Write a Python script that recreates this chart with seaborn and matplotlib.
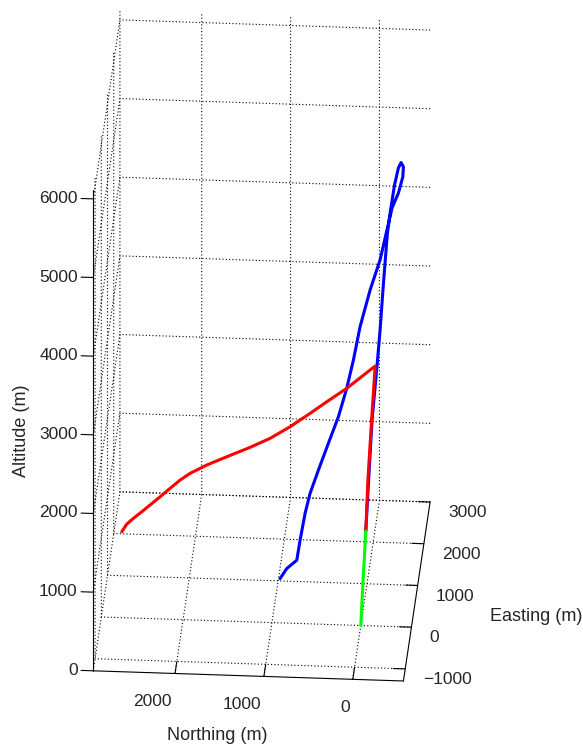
import matplotlib
matplotlib.use("Agg")
import matplotlib.pyplot as plt
from matplotlib.ticker import NullFormatter
import seaborn as sns

# Flight tracks (metres): powered ascent, then the two descending bodies
north_green = [0, -25, -55]
east_green = [0, 10, 20]
alt_green = [0, 570, 1190]

north_red = [-55, -78, -119, -158, 11, 161, 386, 574, 799, 1024, 1249, 1512,
             1737, 1925, 2037, 2150, 2262, 2375, 2468, 2563, 2637, 2693]
east_red = [20, 30, 40, 50, 50, 50, 50, 50, 50, 50, 50, 50, 50, 50, 50, 50,
            50, 50, 50, 50, 50, 50]
alt_red = [1190, 1835, 2595, 3278, 3122, 2983, 2804, 2649, 2471, 2315, 2192,
           2063, 1949, 1836, 1747, 1637, 1526, 1417, 1328, 1240, 1165, 1065]

north_blue = [-55, -86, -124, -180, -213, -250, -294, -329, -373, -415, -443,
              -467, -459, -409, -338, -265, -203, -91, 22, 97, 172, 266, 379,
              491, 585, 641, 697, 734, 847, 922]
east_blue = [20, 30, 40, 50, 60, 70, 80, 90, 100, 120, 150, 180, 200, 200, 200,
             200, 200, 200, 200, 200, 200, 200, 200, 200, 200, 200, 200, 200,
             200, 200]
alt_blue = [1190, 1835, 2595, 3292, 3733, 4323, 4956, 5249, 5563, 5770, 5823,
            5753, 5615, 5406, 5216, 4857, 4549, 4163, 3692, 3265, 2903, 2538,
            2195, 1851, 1551, 1295, 953, 697, 587, 457]

north_ticks = [0, 1000, 2000]
east_ticks = [-1000, 0, 1000, 2000, 3000]
alt_ticks = [0, 1000, 2000, 3000, 4000, 5000, 6000]

north_lim = (2920, -570)
east_lim = (-1290, 3000)
alt_lim = (0, 6110)

sns.set_style("white")
plt.rcParams.update({
    "font.family": ["Liberation Sans", "DejaVu Sans"],
    "grid.color": "k",
    "grid.linestyle": (0, (1, 2)),
    "grid.linewidth": 0.8,
    "axes.edgecolor": "k",
    "axes.linewidth": 0.8,
    "xtick.color": "k",
    "ytick.color": "k",
    "xtick.major.width": 0.8,
    "ytick.major.width": 0.8,
})

fig = plt.figure(figsize=(5.83, 7.49), dpi=100)
ax = fig.add_axes([-0.1789, 0.04927, 1.22247, 0.95154],
                  projection="3d", proj_type="ortho", computed_zorder=False)

ax.plot(north_blue, east_blue, alt_blue, color=(0, 0, 1), lw=2.2)
ax.plot(north_red, east_red, alt_red, color=(1, 0, 0), lw=2.2)
ax.plot(north_green, east_green, alt_green, color=(0, 1, 0), lw=2.2)

# equal metres on every axis, Northing running right-to-left
ax.set_xlim(*north_lim)
ax.set_ylim(*east_lim)
ax.set_zlim(*alt_lim)
ax.set_box_aspect((abs(north_lim[0] - north_lim[1]),
                   east_lim[1] - east_lim[0],
                   alt_lim[1] - alt_lim[0]))
ax.view_init(elev=28, azim=-86)

ax.set_xticks(north_ticks)
ax.set_yticks(east_ticks)
ax.set_zticks(alt_ticks)
for axis in (ax.xaxis, ax.yaxis, ax.zaxis):
    axis.set_major_formatter(NullFormatter())
    axis.set_pane_color((1, 1, 1, 0))
    axis.line.set_color("k")
    axis.line.set_linewidth(0.8)
    axis._axinfo["tick"]["inward_factor"] = 0.0
    axis._axinfo["tick"]["color"] = "k"
ax.xaxis._axinfo["tick"]["outward_factor"] = 0.83
ax.yaxis._axinfo["tick"]["outward_factor"] = 0.48
ax.zaxis._axinfo["tick"]["outward_factor"] = 0.49

# altitude axis on the front-left edge, ticks pointing along Northing
ax.zaxis.set_ticks_position("lower")
ax.zaxis._get_tickdir = lambda position: 0

# tick labels placed in data space next to each tick, MATLAB-style alignment
tick_fs = 12.5
label_fs = 13
for z in alt_ticks:
    ax.text(north_lim[0] + 175, east_lim[0], z, f"{z}", ha="right",
            va="center", fontsize=tick_fs)
for n in north_ticks:
    ax.text(n, east_lim[0] - 503, 0, f"{n}", ha="right", va="top",
            fontsize=tick_fs)
for e in east_ticks:
    ax.text(north_lim[1] - 203, e, -127, f"{e}".replace("-", "\u2212"),
            ha="left", va="center", fontsize=tick_fs)

ax.text(3728, east_lim[0], 3021, "Altitude (m)", zdir="z", ha="center",
        va="center", fontsize=label_fs)
ax.text(1520, east_lim[0], -767, "Northing (m)", ha="center", va="center",
        fontsize=label_fs)
ax.text(-1959, 260, 51, "Easting (m)", ha="center", va="center",
        fontsize=label_fs)

fig.savefig("out.png", dpi=100)
